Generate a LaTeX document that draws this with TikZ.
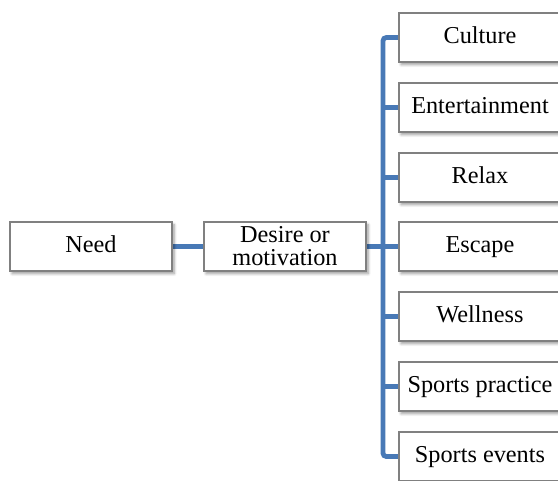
\documentclass[tikz,border=0pt]{standalone}
\usepackage{fontspec}
\setmainfont{Liberation Serif}
\usetikzlibrary{shadows.blur,backgrounds}
\definecolor{linkblue}{RGB}{72,121,182}
\definecolor{boxedge}{RGB}{128,128,128}
\tikzset{
  card/.style={draw=boxedge, line width=0.8pt, fill=white,
    minimum width=121.5pt, minimum height=36.75pt, inner sep=0pt,
    align=center, font=\fontsize{18.2}{17.3}\selectfont,
    blur shadow={shadow xshift=1.6pt, shadow yshift=-2pt,
      shadow blur steps=6, shadow blur radius=2pt, shadow opacity=40}},
  oneline/.style={text height=12.6pt, text depth=3.6pt},
  link/.style={draw=linkblue, line width=3.6pt}
}
\begin{document}
\begin{tikzpicture}[x=0.75pt, y=-0.75pt]
  \useasboundingbox (0,0) rectangle (558,480);
  \clip (0,0) rectangle (558,480);

  % left chain
  \node[card, oneline] (need) at (91,246.5)  {Need};
  \node[card] (desire) at (285,246.5) {Desire or\\motivation};

  % column of motivations
  \node[card, oneline] (culture)  at (480,37.5)  {Culture};
  \node[card, oneline] (entert)   at (480,107.5) {Entertainment};
  \node[card, oneline] (relax)    at (480,177.5) {Relax};
  \node[card, oneline] (escape)   at (480,246.5) {Escape};
  \node[card, oneline] (wellness) at (480,316.5) {Wellness};
  \node[card, oneline] (sportpr)  at (480,386.5) {Sports practice};
  \node[card, oneline] (sportev)  at (480,456.5) {Sports events};

  % vertical bus
  \coordinate (bus) at (383,246.5);

  \begin{scope}[on background layer]
    \draw[link] (need.east) -- (desire.west);
    \draw[link] (desire.east) -- (bus);
    \draw[link, rounded corners=2.5pt] (culture.west) -| (bus) |- (sportev.west);
    \foreach \n in {entert,relax,escape,wellness,sportpr}
      \draw[link] (\n.west) -- (bus |- \n.west);
  \end{scope}
\end{tikzpicture}
\end{document}
